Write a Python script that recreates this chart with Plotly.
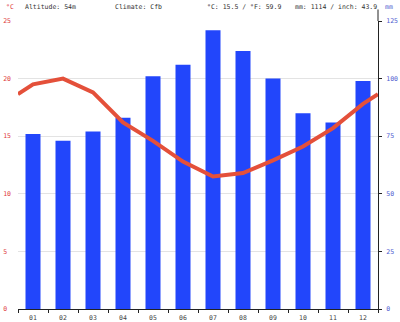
import plotly.graph_objects as go

months = ["01", "02", "03", "04", "05", "06", "07", "08", "09", "10", "11", "12"]
precip_mm = [76, 73, 77, 83, 101, 106, 121, 112, 100, 85, 81, 99]
temp_c = [19.5, 20.0, 18.8, 16.2, 14.6, 12.8, 11.5, 11.8, 12.9, 14.1, 15.7, 17.8]
temp_ticks = [0, 5, 10, 15, 20, 25]
mm_ticks = [0, 25, 50, 75, 100, 125]

NB = "\u00a0"
xs = list(range(12))
edge = (temp_c[0] + temp_c[-1]) / 2
line_x = [-0.5] + xs + [11.5]
line_y = [edge] + temp_c + [edge]

font = "DejaVu Sans Mono"
FS = 6.5
fig = go.Figure()
fig.add_trace(go.Bar(x=xs, y=precip_mm, marker=dict(color="#2246fb", line=dict(width=0)),
                     width=0.5, yaxis="y"))
fig.add_trace(go.Scatter(x=line_x, y=line_y, mode="lines", line=dict(color="#e4503a", width=4),
                         yaxis="y2"))

fig.update_layout(
    width=400, height=322, margin=dict(l=18, r=22, t=21, b=13),
    paper_bgcolor="white", plot_bgcolor="white", showlegend=False,
    font=dict(family=font, size=FS, color="#444"),
    xaxis=dict(range=[-0.5, 11.5], tickmode="array", tickvals=xs, ticktext=months,
               ticks="", showgrid=False, zeroline=False, showline=True, linecolor="#222",
               linewidth=1, color="#444", tickfont=dict(color="#444", size=FS), automargin=False,
               ticklabelstandoff=2,
               minor=dict(tickmode="array", tickvals=[i + 0.5 for i in range(-1, 12)],
                          ticks="outside", ticklen=3, tickcolor="#222")),
    yaxis=dict(range=[0, 125], side="right", tickmode="array", tickvals=mm_ticks,
               ticktext=[str(v).ljust(3, NB) for v in mm_ticks], automargin=False,
               showgrid=True, gridcolor="#e3e3e3", gridwidth=1, zeroline=False,
               showline=True, linecolor="#222", linewidth=1, ticks="outside", ticklen=3,
               ticklabelstandoff=3,
               tickcolor="#222", tickfont=dict(color="#5060d0", size=FS)),
    yaxis2=dict(range=[0, 25], overlaying="y", side="left", tickmode="array",
                tickvals=temp_ticks, ticktext=[str(v).ljust(2, NB) for v in temp_ticks],
                showgrid=False, zeroline=False, showline=False, ticks="", automargin=False,
                ticklabelstandoff=6,
                tickfont=dict(color="#e04040", size=FS)),
)

fig.add_shape(type="line", xref="paper", yref="paper", x0=1, x1=1, y0=1, y1=1.04,
              line=dict(color="#222", width=1))

hy = 1 + 14 / 288
header = [
    (-0.04, "°C", "#e04040"),
    (0.014, "Altitude: 54m", "#333"),
    (0.264, "Climate: Cfb", "#333"),
    (0.52, "°C: 15.5 / °F: 59.9", "#333"),
    (0.764, "mm: 1114 / inch: 43.9", "#333"),
    (1.014, "mm", "#5060d0"),
]
for x, t, c in header:
    fig.add_annotation(x=x, y=hy, xref="paper", yref="paper", text=t, showarrow=False,
                       xanchor="left", yanchor="middle", font=dict(color=c, size=FS, family=font))

fig.write_html("out.html")
